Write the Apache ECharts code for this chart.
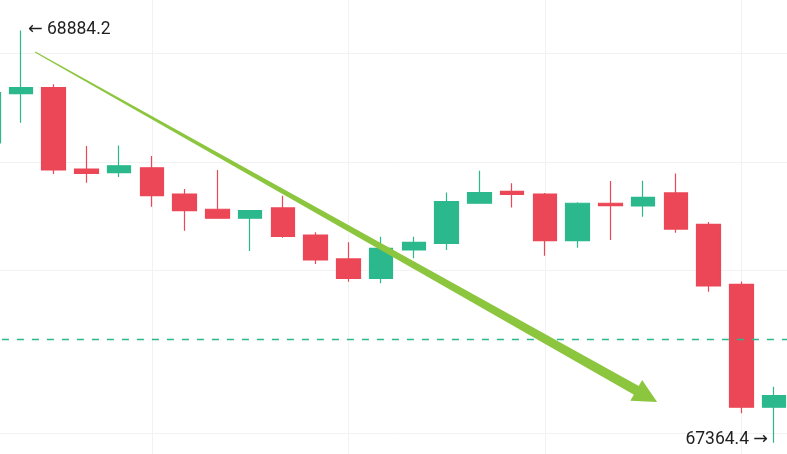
<!DOCTYPE html>
<html><head><meta charset="utf-8">
<script src="https://cdn.jsdelivr.net/npm/echarts@6/dist/echarts.min.js"></script>
<style>html,body{margin:0;padding:0;background:#fff}#c{width:787px;height:454px}</style>
</head><body><div id="c"></div>
<script>
const categories = ['1','2','3','4','5','6','7','8','9','10','11','12','13','14','15','16','17','18','19','20','21','22','23','24','25'];
const opens  = [68470, 68651, 68673, 68373, 68360, 68378, 68281, 68225, 68192, 68230, 68130, 68042, 67970, 68075, 68099, 68247, 68291, 68281, 68109, 68247, 68237, 68285, 68169, 67948, 67495];
const closes = [68655, 68673, 68370, 68357, 68385, 68275, 68220, 68192, 68220, 68125, 68038, 67970, 68081, 68103, 68253, 68286, 68280, 68109, 68247, 68238, 68269, 68152, 67942, 67495, 67538];
const lows   = [68458, 68544, 68355, 68323, 68344, 68234, 68146, 68191, 68071, 68120, 68023, 67958, 67952, 68044, 68075, 68246, 68231, 68054, 68083, 68112, 68197, 68138, 67921, 67473, 67364.4];
const highs  = [68672, 68884.2, 68686, 68458, 68460, 68421, 68300, 68370, 68221, 68275, 68140, 68103, 68124, 68124, 68287, 68367, 68321, 68285, 68251, 68329, 68330, 68357, 68178, 67959, 67571];
const refLevel = 67746.6;
const trendStart = [1.43, 68805];
const trendEnd = [20.43, 67514];

const UP = '#2bb88d', DOWN = '#eb4757', GRIDC = '#f2f2f2', ARROW = '#8cc63f';
const candleData = categories.map((c, i) => [opens[i], closes[i], lows[i], highs[i]]);

const option = {
  animation: false,
  backgroundColor: '#ffffff',
  grid: { left: -28.1, right: -3.4, top: -1, bottom: -33.3, outerBoundsMode: 'none', containLabel: false },
  xAxis: {
    type: 'category', data: categories, boundaryGap: true,
    axisLine: { show: false }, axisTick: { show: false }, axisLabel: { show: false },
    splitLine: { show: true, alignWithLabel: true, interval: (i) => i % 6 === 5, lineStyle: { color: GRIDC, width: 1 } }
  },
  yAxis: {
    type: 'value', min: 67200, max: 69000, interval: 200, scale: true,
    axisLine: { show: false }, axisTick: { show: false }, axisLabel: { show: false },
    splitLine: { show: true, lineStyle: { color: ['transparent', GRIDC, 'transparent', 'transparent', GRIDC, 'transparent', GRIDC, 'transparent', GRIDC, 'transparent'], width: 1 } }
  },
  series: [{
    type: 'candlestick',
    data: candleData,
    barWidth: 24,
    clip: false,
    itemStyle: { color: UP, color0: DOWN, borderColor: UP, borderColor0: DOWN, borderWidth: 1.2 },
    markPoint: {
      symbol: 'circle', symbolSize: 0, silent: true,
      itemStyle: { color: 'transparent' },
      data: [
        { type: 'max', valueDim: 'highest',
          label: { show: true, position: 'right', distance: 7, offset: [0, -1], color: '#1f1f1f', fontSize: 17.5, fontFamily: 'Roboto, "DejaVu Sans", sans-serif',
            formatter: p => '\u2190 ' + p.value } },
        { type: 'min', valueDim: 'lowest',
          label: { show: true, position: 'left', distance: 6, offset: [0, -3], color: '#1f1f1f', fontSize: 17.5, fontFamily: 'Roboto, "DejaVu Sans", sans-serif',
            formatter: p => p.value + ' \u2192' } }
      ]
    },
    markLine: {
      silent: true, symbol: ['none', 'none'], label: { show: false },
      lineStyle: { color: UP, type: [7, 8], width: 1.3 },
      data: [{ yAxis: refLevel }]
    }
  }]
};

const chart = echarts.init(document.getElementById('c'), null, { renderer: 'canvas' });
chart.setOption(option);

function toPx(pt) {
  const a = chart.convertToPixel({ seriesIndex: 0 }, [0, pt[1]]);
  const b = chart.convertToPixel({ seriesIndex: 0 }, [1, pt[1]]);
  return [a[0] + (b[0] - a[0]) * pt[0], a[1]];
}
const S = toPx(trendStart), T = toPx(trendEnd);
const len = Math.hypot(T[0] - S[0], T[1] - S[1]);
const d = [(T[0] - S[0]) / len, (T[1] - S[1]) / len];
const n = [-d[1], d[0]];
const headLen = 24, headHalf = 12, w0 = 0.6, w1 = 5;
const B = [T[0] - d[0] * headLen * 0.8, T[1] - d[1] * headLen * 0.8];
const H = [T[0] - d[0] * headLen, T[1] - d[1] * headLen];
chart.setOption({
  graphic: [
    { type: 'polygon', z: 100, silent: true,
      shape: { points: [[S[0] + n[0] * w0, S[1] + n[1] * w0], [B[0] + n[0] * w1, B[1] + n[1] * w1], [B[0] - n[0] * w1, B[1] - n[1] * w1], [S[0] - n[0] * w0, S[1] - n[1] * w0]] },
      style: { fill: ARROW } },
    { type: 'polygon', z: 100, silent: true,
      shape: { points: [T, [H[0] + n[0] * headHalf, H[1] + n[1] * headHalf], [H[0] - n[0] * headHalf, H[1] - n[1] * headHalf]] },
      style: { fill: ARROW } }
  ]
});
</script></body></html>
